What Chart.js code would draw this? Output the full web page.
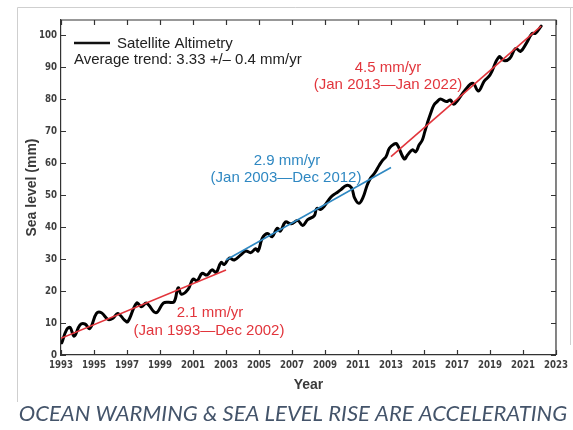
<!DOCTYPE html>
<html><head><meta charset="utf-8">
<script src="https://cdn.jsdelivr.net/npm/chart.js@4/dist/chart.umd.min.js"></script>
<style>html,body{margin:0;padding:0;background:#fff;overflow:hidden}canvas{display:block}</style>
</head><body>
<canvas id="c" width="573" height="430"></canvas>
<script>
// ---- data ----
const years = [1993.05,1993.35,1993.55,1993.8,1994.15,1994.45,1994.75,1995.15,1995.45,1995.85,1996.15,1996.45,1996.85,1997.05,1997.58,1997.88,1998.18,1998.75,1999.2,1999.5,1999.85,2000.1,2000.3,2000.7,2001.0,2001.25,2001.55,2001.85,2002.15,2002.4,2002.7,2002.9,2003.2,2003.5,2003.9,2004.2,2004.5,2004.8,2004.95,2005.2,2005.5,2005.8,2006.1,2006.3,2006.6,2006.95,2007.35,2007.65,2007.95,2008.35,2008.5,2008.75,2008.95,2009.35,2009.65,2009.95,2010.3,2010.6,2010.8,2011.05,2011.3,2011.55,2011.75,2012.0,2012.3,2012.5,2012.7,2012.9,2013.15,2013.35,2013.8,2014.0,2014.3,2014.5,2014.7,2014.9,2015.05,2015.2,2015.4,2015.6,2015.8,2016.0,2016.35,2016.6,2016.8,2017.1,2017.45,2017.95,2018.3,2018.65,2019.0,2019.55,2019.85,2020.2,2020.55,2020.85,2021.2,2021.55,2021.75,2022.1];
const seaLevel = [3.8,8.0,8.6,5.9,9.4,9.7,8.3,13.0,13.2,11.1,11.5,13.0,10.9,10.4,16.2,15.1,16.2,13.2,16.2,16.5,16.6,21.0,19.0,20.5,23.7,23.2,25.5,25.0,26.6,25.8,28.9,28.3,30.3,29.7,31.3,32.5,32.0,33.2,32.5,36.5,38.0,37.0,39.6,38.7,41.6,41.0,42.0,40.5,42.3,43.5,45.8,45.5,46.5,49.3,50.5,51.6,53.0,52.3,49.0,47.4,49.2,53.0,55.2,56.8,59.4,60.9,62.0,64.6,65.8,66.0,61.3,62.5,64.1,63.5,65.6,67.2,69.8,72.4,75.5,78.1,79.2,80.0,79.2,79.7,78.4,80.0,82.5,84.9,82.5,85.6,87.5,93.2,92.0,92.7,95.8,94.9,97.4,100.5,100.5,102.8];
const trend1Years = [1993, 2003];   const trend1Values = [5.2, 26.6];   // 2.1 mm/yr
const trend2Years = [2003, 2013];   const trend2Values = [29.7, 58.6];  // 2.9 mm/yr
const trend3Years = [2013, 2022.1]; const trend3Values = [62.0, 102.8]; // 4.5 mm/yr
const xTickValues = [1993,1995,1997,1999,2001,2003,2005,2007,2009,2011,2013,2015,2017,2019,2021,2023];
const yTickValues = [0,10,20,30,40,50,60,70,80,90,100];
const xRange = [1993, 2023];
const yRange = [0, 104.7];

const toPts = (xs, ys) => xs.map((x, i) => ({x, y: ys[i]}));

const RED = '#e2353c', BLUE = '#2f88c2', AXIS = '#333', TICKTXT = '#404040';
const tickFont = {family: '"DejaVu Sans Condensed",sans-serif', size: 9.6, weight: 'bold'};
const txtFamily = '"Liberation Sans",Arial,sans-serif';

const decor = {
  id: 'decor',
  beforeDraw(chart) {
    const ctx = chart.ctx;
    ctx.save();
    ctx.fillStyle = '#fff'; ctx.fillRect(0, 0, chart.width, chart.height);
    ctx.strokeStyle = '#cfcfcf'; ctx.lineWidth = 1;
    ctx.beginPath();
    ctx.moveTo(17.5, 402); ctx.lineTo(17.5, 7.5); ctx.lineTo(573, 7.5);
    ctx.moveTo(570.5, 7.5); ctx.lineTo(570.5, 345);
    ctx.stroke();
    ctx.restore();
  },
  afterDraw(chart) {
    const {ctx, chartArea: a, scales: {x, y}} = chart;
    ctx.save();
    ctx.strokeStyle = AXIS; ctx.lineWidth = 1.2;
    ctx.beginPath();
    ctx.moveTo(a.left, a.top); ctx.lineTo(a.right, a.top); ctx.lineTo(a.right, a.bottom);
    xTickValues.forEach(v => {
      const px = Math.round(x.getPixelForValue(v)) + 0.5;
      ctx.moveTo(px, a.bottom); ctx.lineTo(px, a.bottom - 5);
      ctx.moveTo(px, a.top); ctx.lineTo(px, a.top + 5);
    });
    yTickValues.forEach(v => {
      const py = Math.round(y.getPixelForValue(v)) + 0.5;
      ctx.moveTo(a.left, py); ctx.lineTo(a.left + 5, py);
      ctx.moveTo(a.right, py); ctx.lineTo(a.right - 5, py);
    });
    ctx.stroke();

    // legend
    ctx.strokeStyle = '#111'; ctx.lineWidth = 2.5;
    ctx.beginPath(); ctx.moveTo(74, 43); ctx.lineTo(110, 43); ctx.stroke();
    ctx.fillStyle = '#222'; ctx.font = '15px ' + txtFamily; ctx.textAlign = 'left'; ctx.textBaseline = 'alphabetic';
    ctx.fillText('Satellite Altimetry', 117, 47.5);
    ctx.fillText('Average trend: 3.33 +/\u2013 0.4 mm/yr', 74, 63.5);

    // annotations
    ctx.textAlign = 'center';
    ctx.fillStyle = RED;
    ctx.fillText('2.1 mm/yr', 210, 317);
    ctx.fillText('(Jan 1993\u2014Dec 2002)', 209, 335);
    ctx.fillText('4.5 mm/yr', 388, 72);
    ctx.fillText('(Jan 2013\u2014Jan 2022)', 388, 89);
    ctx.fillStyle = BLUE;
    ctx.fillText('2.9 mm/yr', 287, 165);
    ctx.fillText('(Jan 2003\u2014Dec 2012)', 286, 182);

    // caption
    ctx.fillStyle = '#44546a';
    ctx.font = 'italic 22px Lato,"Open Sans",sans-serif';
    ctx.fillText('OCEAN WARMING & SEA LEVEL RISE ARE ACCELERATING', 293, 421);
    ctx.restore();
  }
};

new Chart(document.getElementById('c'), {
  type: 'line',
  data: {
    datasets: [
      {data: toPts(trend1Years, trend1Values), borderColor: RED, borderWidth: 1.6, pointRadius: 0, tension: 0, order: 0},
      {data: toPts(trend2Years, trend2Values), borderColor: BLUE, borderWidth: 1.6, pointRadius: 0, tension: 0, order: 0},
      {data: toPts(trend3Years, trend3Values), borderColor: RED, borderWidth: 1.6, pointRadius: 0, tension: 0, order: 0},
      {data: toPts(years, seaLevel), borderColor: '#000', borderWidth: 3, pointRadius: 0, tension: 0.4, order: 1, borderJoinStyle: 'round', borderCapStyle: 'round'}
    ]
  },
  options: {
    responsive: false, animation: false, devicePixelRatio: 1,
    layout: {padding: {left: 0, right: 16, top: 20, bottom: 0}},
    plugins: {legend: {display: false}, tooltip: {enabled: false}},
    scales: {
      x: {
        type: 'linear', min: xRange[0], max: xRange[1],
        afterBuildTicks: s => { s.ticks = xTickValues.map(v => ({value: v})); },
        afterFit: s => { s.height = 75; },
        grid: {display: false, drawTicks: false, tickLength: 0},
        border: {display: true, color: AXIS, width: 1.2},
        ticks: {autoSkip: false, maxRotation: 0, padding: 5, color: TICKTXT, font: tickFont, callback: v => String(v)},
        title: {display: true, text: 'Year', color: '#3a3a3a', font: {family: txtFamily, size: 14, weight: 'bold'}, padding: {top: 0, bottom: 36.6}}
      },
      y: {
        type: 'linear', min: yRange[0], max: yRange[1],
        afterBuildTicks: s => { s.ticks = yTickValues.map(v => ({value: v})); },
        afterFit: s => { s.width = 61; },
        grid: {display: false, drawTicks: false, tickLength: 0},
        border: {display: true, color: AXIS, width: 1.2},
        ticks: {autoSkip: false, padding: 4, color: TICKTXT, font: tickFont, callback: v => String(v)},
        title: {display: true, text: 'Sea level (mm)', color: '#3a3a3a', font: {family: txtFamily, size: 14, weight: 'bold'}, padding: {top: 23.6, bottom: 0}}
      }
    }
  },
  plugins: [decor]
});
</script>
</body></html>
